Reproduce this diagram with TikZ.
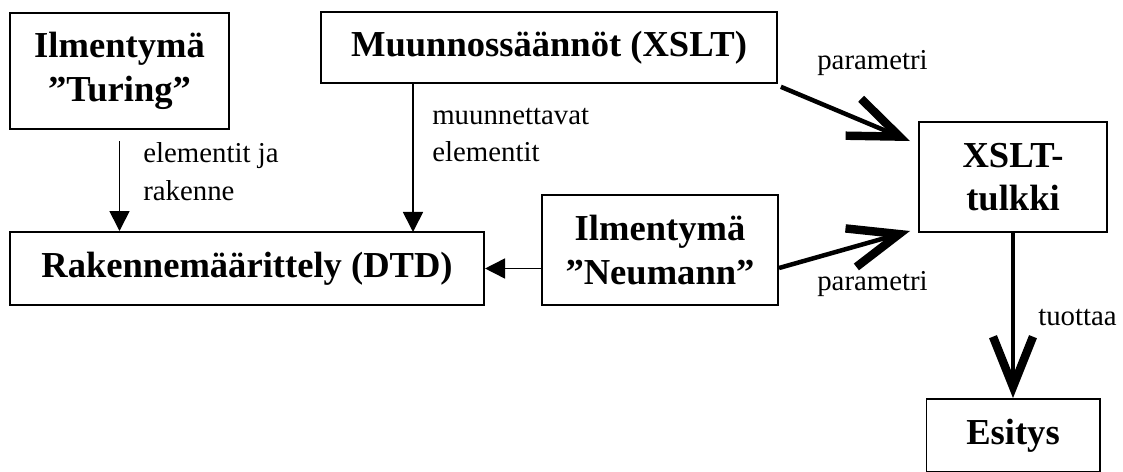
\documentclass[tikz,border=0pt]{standalone}
\usepackage{fontspec}
\setmainfont{Liberation Serif}
\usetikzlibrary{arrows.meta, positioning}

\begin{document}
\begin{tikzpicture}[x=0.025cm, y=-0.025cm,
            box/.style={draw=black, line width=1.4pt, inner sep=0pt, font=\fontsize{26}{31}\selectfont\bfseries, align=center},
            lbl/.style={inner sep=0pt, font=\fontsize{20.5}{27}\selectfont, align=left},
            arr/.style={-{Triangle[length=0.5cm, width=0.5cm]}, line width=1.2pt},
            bigarr/.style={-{Straight Barb[length=1.25cm, width=1cm, line width=6pt]}, line width=3.2pt}
        ]
            \useasboundingbox[fill=white] (0,0) rectangle (1123,472);
            \node[box, minimum width=5.475cm, minimum height=2.9cm] (turing) at (119.5,71) {Ilmentymä\\”Turing”};
            \node[box, minimum width=11.4cm, minimum height=1.775cm] (muunnos) at (549,47.5) {Muunnossäännöt (XSLT)};
            \node[box, minimum width=11.85cm, minimum height=1.825cm] (rakenne) at (247,268.5) {Rakennemäärittely (DTD)};
            \node[box, minimum width=5.9cm, minimum height=2.75cm] (neumann) at (660,250) {Ilmentymä\\”Neumann”};
            \node[box, minimum width=4.7cm, minimum height=2.75cm] (xslt) at (1013,177) {XSLT-\\tulkki};
            \node[box, minimum width=4.325cm, minimum height=1.825cm, below=4.125cm of xslt] (esitys) {Esitys};
            \coordinate (mr) at (413,232);
            % ohuet nuolet
            \draw[arr] ([yshift=-0.275cm]turing.south) -- (turing.south |- rakenne.north);
            \draw[arr] (mr |- muunnos.south) -- (mr);
            \draw[arr] (neumann.west |- rakenne.east) -- (rakenne.east);
            % paksut nuolet
            \draw[bigarr] ([xshift=2pt, yshift=-2pt]muunnos.south east) -- ([xshift=-0.2cm, yshift=-0.5cm]xslt.north west);
            \draw[bigarr] ([yshift=-0.45cm]neumann.east) -- ([xshift=-0.2cm, yshift=0.05cm]xslt.south west);
            \draw[bigarr] (xslt.south) -- (esitys.north);
            % tekstit
            \node[lbl, anchor=base west] (elab) at (143,200) {elementit ja\\rakenne};
            \node[lbl, anchor=base west] (mlab) at (432,162) {muunnettavat\\elementit};
            \node[lbl, anchor=base west] (plab1) at (817,70) {parametri};
            \node[lbl, anchor=base west] (plab2) at (817,290) {parametri};
            \node[lbl, anchor=base west] (tlab) at (1038,325) {tuottaa};
        \end{tikzpicture}
\end{document}
